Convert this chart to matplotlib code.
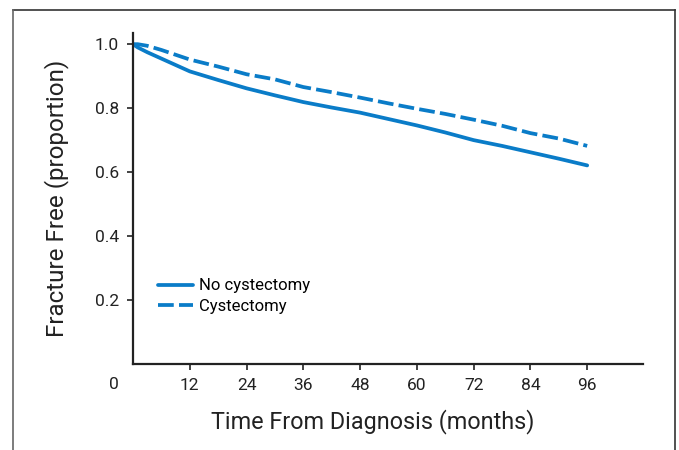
import numpy as np
import matplotlib.pyplot as plt
from matplotlib.lines import Line2D

plt.rcParams['font.family'] = ['Roboto', 'DejaVu Sans']

# Courbes (mois, proportion sans fracture)
mois = [0, 1, 3, 6, 12, 18, 24, 30, 36, 42, 48, 54, 60, 66, 72, 78, 84, 90, 96]
sans_cystectomie = [1.0, 0.99, 0.975, 0.955, 0.915, 0.888, 0.862, 0.840, 0.819, 0.802,
                    0.786, 0.766, 0.746, 0.724, 0.700, 0.682, 0.662, 0.642, 0.621]
cystectomie = [1.0, 1.0, 0.995, 0.982, 0.952, 0.930, 0.906, 0.890, 0.866, 0.850,
               0.833, 0.815, 0.798, 0.782, 0.764, 0.745, 0.722, 0.705, 0.682]

x_ticks = [12, 24, 36, 48, 60, 72, 84, 96]
y_ticks = [0.2, 0.4, 0.6, 0.8, 1.0]

bleu = '#0a7cc8'

fig = plt.figure(figsize=(6.79, 4.5), dpi=100)
ax = fig.add_axes([133 / 679, 1 - 364 / 450, (643 - 133) / 679, (364 - 33) / 450])

ax.plot(mois, sans_cystectomie, color=bleu, lw=2.7, label='No cystectomy',
        solid_capstyle='round')
ax.plot(mois, cystectomie, color=bleu, lw=2.7, ls=(0, (4.2, 1.4)), label='Cystectomy')

ax.set_xlim(0, 107.8)
ax.set_ylim(0, 1.035)
ax.set_xticks(x_ticks)
ax.set_yticks(y_ticks)
ax.set_yticklabels([f'{v:.1f}' for v in y_ticks])
ax.tick_params(labelsize=12.5, colors='#222222', length=4, width=1.2, pad=6)
ax.text(-4.0, -0.04, '0', ha='center', va='top', fontsize=12.5, color='#222222',
        transform=ax.get_xaxis_transform())

for s in ['top', 'right']:
    ax.spines[s].set_visible(False)
for s in ['left', 'bottom']:
    ax.spines[s].set_color('#222222')
    ax.spines[s].set_linewidth(1.6)

ax.set_xlabel('Time From Diagnosis (months)', fontsize=16.8, color='#222222', va='center')
ax.set_ylabel('Fracture Free (proportion)', fontsize=17.4, color='#222222', va='center')
ax.xaxis.set_label_coords(0.47, -0.175)
ax.yaxis.set_label_coords(-0.149, 0.5)

ax.legend(loc='lower left', bbox_to_anchor=(0.035, 0.13), frameon=False, fontsize=12,
          handlelength=2.1, handletextpad=0.4, labelspacing=0.35, borderaxespad=0)

# Cadre extérieur
fig.add_artist(Line2D([13 / 679, 675 / 679], [1 - 10 / 450, 1 - 10 / 450],
                      color='#333333', lw=1.2))
fig.add_artist(Line2D([13 / 679, 13 / 679], [0, 1 - 10 / 450], color='#666666', lw=1.2))
fig.add_artist(Line2D([675 / 679, 675 / 679], [0, 1 - 10 / 450], color='#333333', lw=1.2))

fig.savefig('out.png', dpi=100)
